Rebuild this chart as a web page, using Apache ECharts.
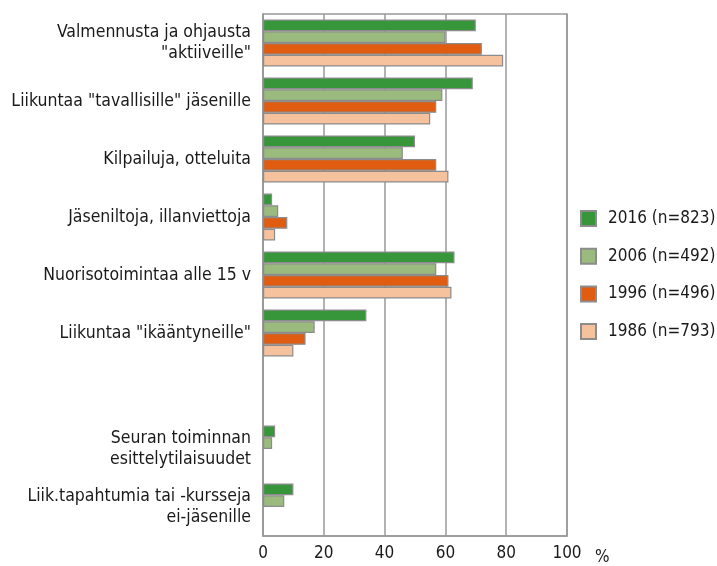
<!DOCTYPE html>
<html>
<head>
<meta charset="utf-8" />
<title></title>
<script type="text/javascript" src="https://cdn.jsdelivr.net/npm/echarts@6/dist/echarts.min.js"></script>
</head>
<body style="margin:0">
<div id="main" style="width: 717px;height: 566px;"></div>
<script type="text/javascript">
// data
var categories = [
  'Valmennusta ja ohjausta\n"aktiiveille"',
  'Liikuntaa "tavallisille" jäsenille',
  'Kilpailuja, otteluita',
  'Jäseniltoja, illanviettoja',
  'Nuorisotoimintaa alle 15 v',
  'Liikuntaa "ikääntyneille"',
  '',
  'Seuran toiminnan\nesittelytilaisuudet',
  'Liik.tapahtumia tai -kursseja\nei-jäsenille'
];
var seriesNames = ['2016 (n=823)', '2006 (n=492)', '1996 (n=496)', '1986 (n=793)'];
var v2016 = [70, 69, 50, 3, 63, 34, null, 4, 10];
var v2006 = [60, 59, 46, 5, 57, 17, null, 3, 7];
var v1996 = [72, 57, 57, 8, 61, 14, null, null, null];
var v1986 = [79, 55, 61, 4, 62, 10, null, null, null];
var xTicks = [0, 20, 40, 60, 80, 100];

var colors = ['#379639', '#9aba7e', '#e05c10', '#f5c29d'];
var font = '"DejaVu Sans Condensed", "Liberation Sans Narrow", sans-serif';

var myChart = echarts.init(document.getElementById('main'));
var values = [v2016, v2006, v1996, v1986];

var option = {
  animation: false,
  grid: {
    left: 263, right: 150, top: 14, bottom: 29,
    show: true, borderColor: '#999', borderWidth: 1.5
  },
  legend: {
    orient: 'vertical',
    left: 580, top: 210, padding: 0,
    itemWidth: 15, itemHeight: 15, itemGap: 20.7,
    icon: 'rect',
    textStyle: { fontFamily: font, fontSize: 17, color: '#1a1a1a', padding: [0, 0, 0, 7], lineHeight: 17 },
    data: seriesNames
  },
  xAxis: {
    type: 'value',
    min: xTicks[0], max: xTicks[xTicks.length - 1], interval: 20,
    name: '%', nameLocation: 'end', nameGap: 28,
    nameTextStyle: { fontFamily: font, fontSize: 17, color: '#1a1a1a', verticalAlign: 'top', padding: [13, 0, 0, 0] },
    axisLine: { show: true, lineStyle: { color: '#999', width: 1.5 } },
    axisTick: { show: false },
    axisLabel: { fontFamily: font, fontSize: 17, color: '#1a1a1a', margin: 9 },
    splitLine: { lineStyle: { color: '#999', width: 1.5 } }
  },
  yAxis: {
    type: 'category',
    inverse: true,
    data: categories,
    axisLine: { show: true, lineStyle: { color: '#999', width: 1.5 } },
    axisTick: { show: false },
    axisLabel: { fontFamily: font, fontSize: 17.5, color: '#1a1a1a', margin: 12, lineHeight: 21, align: 'right' }
  },
  series: seriesNames.map(function (n, i) {
    return {
      name: n,
      type: 'bar',
      data: values[i],
      barGap: '0%',
      barCategoryGap: '19%',
      itemStyle: { color: colors[i], borderColor: '#8c8c8c', borderWidth: 1.2 }
    };
  })
};
myChart.setOption(option);
</script>
</body>
</html>
